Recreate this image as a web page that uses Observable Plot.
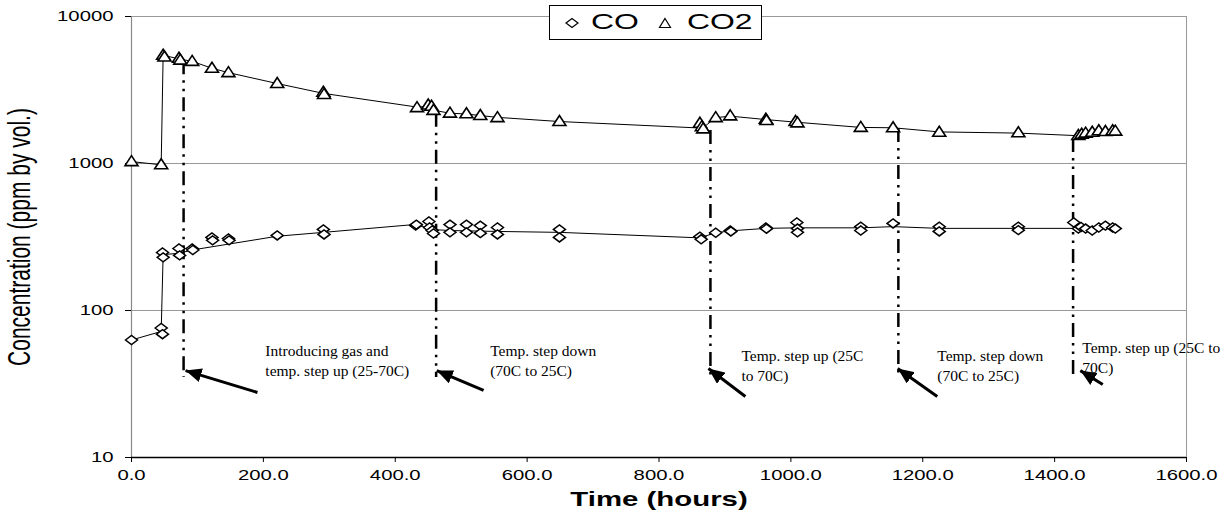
<!DOCTYPE html>
<html><head><meta charset="utf-8">
<script src="https://cdn.jsdelivr.net/npm/d3@7"></script>
<script src="https://cdn.jsdelivr.net/npm/@observablehq/plot@0.6"></script>
<style>
body{margin:0;background:#fff;}
#wrap{position:relative;width:1230px;height:519px;overflow:hidden;}
#legend{position:absolute;left:549px;top:5px;width:211px;height:33px;border:1px solid #000;background:#fff;font-family:Arial,'Liberation Sans',sans-serif;font-size:22px;}
#legend span.t{position:absolute;top:3px;display:inline-block;transform:scaleX(1.45);transform-origin:left center;line-height:26px;}
#legend svg{position:absolute;top:11px;}
</style></head><body>
<div id="wrap">
<div id="legend">
<svg style="left:15px" width="14" height="12"><path d="M1,6L7,1.5L13,6L7,10.5Z" fill="#fff" stroke="#000" stroke-width="1.2"/></svg>
<span class="t" style="left:41px">CO</span>
<svg style="left:108px" width="14" height="12"><path d="M7,1.5L12.5,10.5L1.5,10.5Z" fill="#fff" stroke="#000" stroke-width="1.2"/></svg>
<span class="t" style="left:137px">CO2</span>
</div>
</div>
<script>
// ---- data ----
const co2Time  = [0,45,48,50,72,74,92,122,147,221,291,292,433,450,455,458,483,508,529,555,649,862,865,867,886,908,962,963,1007,1010,1106,1155,1225,1345,1436,1441,1447,1457,1467,1477,1488,1492];
const co2Value = [1030,980,5450,5300,5200,5050,4950,4450,4150,3500,3050,2950,2400,2500,2450,2300,2200,2180,2120,2050,1930,1880,1780,1720,2050,2110,2000,1960,1930,1890,1760,1750,1630,1620,1550,1580,1610,1630,1670,1650,1670,1660];

const coTime  = [0,45,47,47,48,72,73,92,93,122,123,147,148,221,291,292,431,432,451,452,456,458,483,483,508,508,529,529,555,555,649,649,862,864,886,908,909,962,963,1009,1010,1010,1106,1106,1155,1225,1225,1345,1345,1429,1436,1440,1447,1457,1467,1477,1488,1492];
const coValue = [63,76,69,248,230,264,237,264,258,314,300,309,300,324,356,329,378,384,403,367,350,334,384,340,384,340,378,336,367,329,356,314,318,305,338,350,345,367,360,397,361,340,372,350,391,372,345,372,352,397,361,370,361,350,367,378,367,361];

const co2LineTime  = [0,45,48,72,92,122,147,221,291,433,455,458,483,508,555,649,866,886,908,962,1008,1106,1155,1225,1345,1430,1441,1457,1467,1492];
const co2LineValue = [1030,980,5450,5150,4950,4450,4150,3500,3000,2420,2450,2300,2200,2170,2060,1930,1740,2050,2100,1990,1910,1760,1750,1640,1610,1550,1580,1630,1660,1660];

const coLineTime  = [0,45,48,72,92,221,291,431,458,483,555,649,862,886,908,962,1009,1106,1155,1225,1345,1429,1492];
const coLineValue = [63,72,240,245,258,320,340,385,355,350,345,340,312,338,348,362,365,365,372,362,362,362,365];

// annotation events
const eventTime   = [79,462,878,1163,1428];
const eventTop    = [5000,2200,1680,1730,1480];
const eventBottom = [35,35,35,35,35];
const eventLabels = ["Introducing gas and\ntemp. step up (25-70C)","Temp. step down\n(70C to 25C)","Temp. step up (25C\nto 70C)","Temp. step down\n(70C to 25C)","Temp. step up (25C to\n70C)"];
const labelTime   = [203,544,925,1222,1442];
const labelValue  = [46,46,43,43,48.5];
const arrowTailTime  = [191,534,931,1222,1473];
const arrowTailValue = [27.7,28.6,26,26,31.4];
const arrowTipTime   = [82,463,875,1162,1439];
const arrowTipValue  = [39,39,40.3,40.3,39];

const xTicks = [0,200,400,600,800,1000,1200,1400,1600];
const yTicks = [10,100,1000,10000];
const gridValues = [100,1000,10000];

// ---- tables ----
const co2Pts = co2Time.map((t,i)=>({t, v:co2Value[i]}));
const coPts = coTime.map((t,i)=>({t, v:coValue[i]}));
const co2Line = co2LineTime.map((t,i)=>({t, v:co2LineValue[i]}));
const coLine = coLineTime.map((t,i)=>({t, v:coLineValue[i]}));
const events = eventTime.map((t,i)=>({t, top:eventTop[i], bottom:eventBottom[i]}));
const labels = eventLabels.map((s,i)=>({text:s, t:labelTime[i], v:labelValue[i]}));
const arrows = arrowTailTime.map((t,i)=>({x1:t, y1:arrowTailValue[i], x2:arrowTipTime[i], y2:arrowTipValue[i]}));

const flatDiamond = {draw(ctx){ctx.moveTo(-6,0);ctx.lineTo(0,-4.5);ctx.lineTo(6,0);ctx.lineTo(0,4.5);ctx.closePath();}};
const flatTriangle = {draw(ctx){ctx.moveTo(0,-6);ctx.lineTo(6.5,4);ctx.lineTo(-6.5,4);ctx.closePath();}};

function filledArrow(color){
  const m = d3.create("svg:marker")
    .attr("viewBox","-16 -7 17 14")
    .attr("markerWidth",17).attr("markerHeight",14)
    .attr("markerUnits","userSpaceOnUse")
    .attr("orient","auto")
    .attr("refX",0).attr("refY",0)
    .attr("fill","#000").attr("stroke","none");
  m.append("path").attr("d","M0,0L-16,-7L-16,7Z");
  return m.node();
}

const sans = "Arial, 'Liberation Sans', sans-serif";
const serif = "'Times New Roman', 'Liberation Serif', serif";

const chart = Plot.plot({
  width:1230, height:519,
  marginLeft:131, marginRight:44, marginTop:16, marginBottom:62,
  style:{fontFamily:sans, background:"#fff", color:"#000"},
  x:{domain:[0,1600]},
  y:{type:"log", domain:[10,10000]},
  marks:[
    Plot.ruleY(gridValues, {stroke:"#999", strokeWidth:1}),
    Plot.ruleX([1600], {stroke:"#999", strokeWidth:1}),
    Plot.ruleX([0], {stroke:"#888", strokeWidth:1.2}),
    Plot.ruleY([10], {stroke:"#000", strokeWidth:1.5}),
    Plot.axisX({ticks:xTicks, tickFormat:d3.format(".1f"), tickSize:5, tickPadding:8, fontSize:14, label:null}),
    Plot.axisY({ticks:yTicks, tickFormat:d3.format("d"), tickSize:6, tickPadding:12, fontSize:14, label:null}),
    Plot.text(["Concentration (ppm by vol.)"], {frameAnchor:"left", textAnchor:"middle", dx:-111, rotate:-90, fontSize:21, fontFamily:sans}),
    Plot.text(["Time (hours)"], {frameAnchor:"bottom", textAnchor:"middle", dy:48, fontSize:21, fontWeight:"bold", fontFamily:sans}),
    Plot.ruleX(events, {x:"t", y1:"top", y2:"bottom", stroke:"#000", strokeWidth:2.5, strokeDasharray:"14,6,2.5,6,2.5,6"}),
    Plot.link(arrows, {x1:"x1", y1:"y1", x2:"x2", y2:"y2", stroke:"#000", strokeWidth:3, markerEnd:filledArrow}),
    Plot.text(labels, {x:"t", y:"v", text:"text", textAnchor:"start", lineAnchor:"middle", fontFamily:serif, fontSize:15.5, lineHeight:1.29, fill:"#000"}),
    Plot.line(co2Line, {x:"t", y:"v", stroke:"#000", strokeWidth:1}),
    Plot.line(coLine, {x:"t", y:"v", stroke:"#000", strokeWidth:1}),
    Plot.dot(co2Pts, {x:"t", y:"v", symbol:flatTriangle, r:5, fill:"#fff", stroke:"#000", strokeWidth:1.6}),
    Plot.dot(coPts, {x:"t", y:"v", symbol:flatDiamond, r:5, fill:"#fff", stroke:"#000", strokeWidth:1.5})
  ]
});

// stretch the sans-serif texts horizontally like the original
chart.querySelectorAll('[aria-label="x-axis tick label"] text, [aria-label="y-axis tick label"] text').forEach(el=>{
  el.setAttribute("transform", (el.getAttribute("transform")||"") + " scale(1.45,1)");
});
chart.querySelectorAll('[aria-label="text"] text').forEach(el=>{
  const s = el.textContent;
  if (s === "Time (hours)") el.setAttribute("transform", el.getAttribute("transform") + " scale(1.4,1)");
  if (s === "Concentration (ppm by vol.)") el.setAttribute("transform", el.getAttribute("transform") + " scale(1,1.45)");
});

document.getElementById("wrap").insertBefore(chart, document.getElementById("legend"));
</script>
</body></html>
